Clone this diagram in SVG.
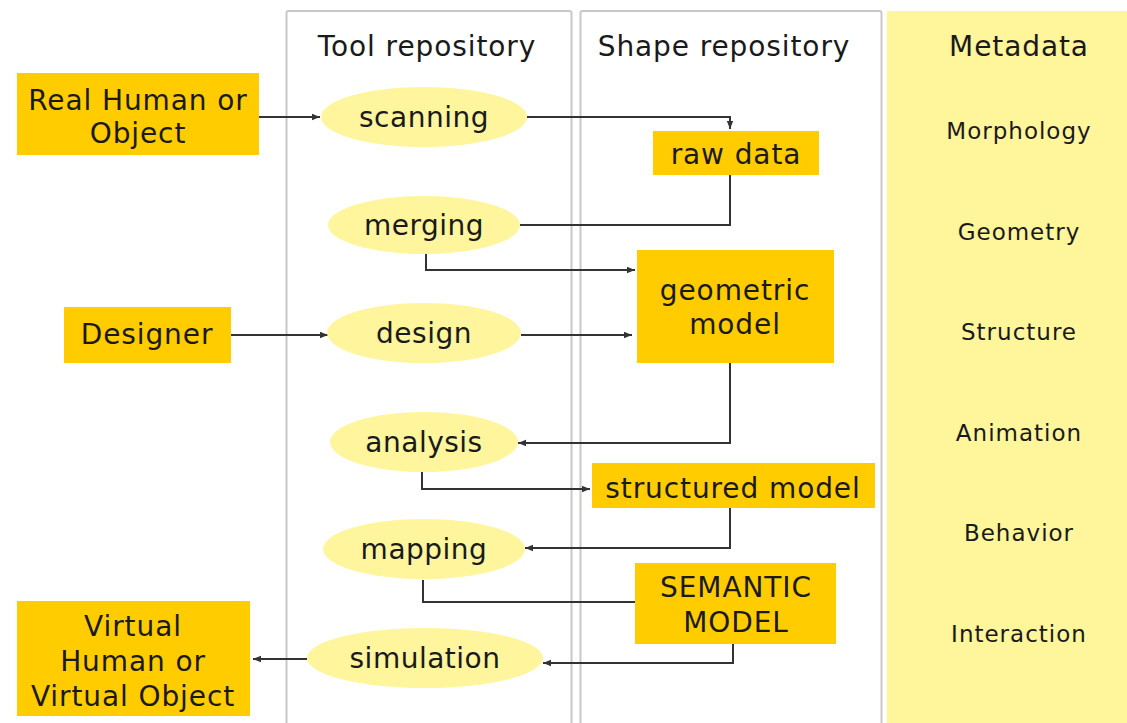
<svg xmlns="http://www.w3.org/2000/svg" width="1127" height="723" viewBox="0 0 1127 723">
<style>
  text { font-family: "DejaVu Sans", Verdana, sans-serif; fill: #1a1a1a; text-anchor: middle; }
  .t { font-size: 28px; letter-spacing: 0.9px; }
  .e { font-size: 28px; letter-spacing: 0.5px; }
  .m { font-size: 23px; letter-spacing: 1px; }
  .panel { fill: #ffffff; stroke: #c8c8c8; stroke-width: 2; }
  .meta { fill: #fff59b; }
  .box { fill: #ffcc00; }
  .ell { fill: #fff59d; }
  .c { fill: none; stroke: #333333; stroke-width: 2; }
  .a { marker-end: url(#arr); }
</style>
<defs>
  <marker id="arr" markerUnits="userSpaceOnUse" markerWidth="9" markerHeight="8" refX="8" refY="4" orient="auto">
    <path d="M0,0.8 L8,4 L0,7.2 z" fill="#333333"/>
  </marker>
</defs>
<rect width="1127" height="723" fill="#ffffff"/>
<g id="panels">
  <rect class="panel" x="286.5" y="11" width="285" height="730" rx="2"/>
  <rect class="panel" x="580.5" y="11" width="301" height="730" rx="2"/>
  <rect class="meta" x="887" y="11" width="245" height="730"/>
  <text class="t" x="427" y="56">Tool repository</text>
  <text class="t" x="724" y="56">Shape repository</text>
</g>
<g id="metadata">
  <text class="t" x="1019" y="56">Metadata</text>
  <text class="m" x="1019" y="139">Morphology</text>
  <text class="m" x="1019" y="240">Geometry</text>
  <text class="m" x="1019" y="340">Structure</text>
  <text class="m" x="1019" y="441">Animation</text>
  <text class="m" x="1019" y="541">Behavior</text>
  <text class="m" x="1019" y="642">Interaction</text>
</g>
<g id="connectors">
  <path class="c a" d="M258,117 H320"/>
  <path class="c a" d="M527,117 H730 V129"/>
  <path class="c" d="M730,175 V225 H520"/>
  <path class="c a" d="M426,254 V270 H635"/>
  <path class="c a" d="M231,335 H328"/>
  <path class="c a" d="M521,335 H632"/>
  <path class="c a" d="M730,363 V443 H518"/>
  <path class="c a" d="M422,472 V489 H590"/>
  <path class="c a" d="M730,508 V548 H525"/>
  <path class="c" d="M423,580 V602 H636"/>
  <path class="c a" d="M733,644 V663 H543"/>
  <path class="c a" d="M307,659 H253"/>
</g>
<g id="real-human">
  <rect class="box" x="17" y="73" width="242" height="82"/>
  <text class="t" x="138" y="110">Real Human or</text>
  <text class="t" x="138" y="143">Object</text>
</g>
<g id="scanning">
  <ellipse class="ell" cx="424" cy="117" rx="103" ry="30"/>
  <text class="e" x="424" y="127">scanning</text>
</g>
<g id="raw-data">
  <rect class="box" x="653" y="131" width="166" height="44"/>
  <text class="t" x="736" y="164">raw data</text>
</g>
<g id="merging">
  <ellipse class="ell" cx="424" cy="225" rx="96" ry="29"/>
  <text class="e" x="424" y="235">merging</text>
</g>
<g id="geometric-model">
  <rect class="box" x="637" y="250" width="197" height="113"/>
  <text class="t" x="735" y="300">geometric</text>
  <text class="t" x="735" y="334">model</text>
</g>
<g id="designer">
  <rect class="box" x="64" y="307" width="167" height="56"/>
  <text class="t" x="147" y="344">Designer</text>
</g>
<g id="design">
  <ellipse class="ell" cx="424" cy="333" rx="97" ry="30"/>
  <text class="e" x="424" y="343">design</text>
</g>
<g id="analysis">
  <ellipse class="ell" cx="424" cy="442" rx="94" ry="30"/>
  <text class="e" x="424" y="452">analysis</text>
</g>
<g id="structured-model">
  <rect class="box" x="592" y="463" width="283" height="45"/>
  <text class="t" x="733" y="498">structured model</text>
</g>
<g id="mapping">
  <ellipse class="ell" cx="424" cy="549" rx="101" ry="30"/>
  <text class="e" x="424" y="559">mapping</text>
</g>
<g id="semantic-model">
  <rect class="box" x="635" y="563" width="201" height="81"/>
  <text class="t" x="736" y="597">SEMANTIC</text>
  <text class="t" x="736" y="632">MODEL</text>
</g>
<g id="simulation">
  <ellipse class="ell" cx="425" cy="658" rx="118" ry="30"/>
  <text class="e" x="425" y="668">simulation</text>
</g>
<g id="virtual">
  <rect class="box" x="17" y="601" width="233" height="115"/>
  <text class="t" x="133" y="636">Virtual</text>
  <text class="t" x="133" y="671">Human or</text>
  <text class="t" x="133" y="706">Virtual Object</text>
</g>
</svg>
